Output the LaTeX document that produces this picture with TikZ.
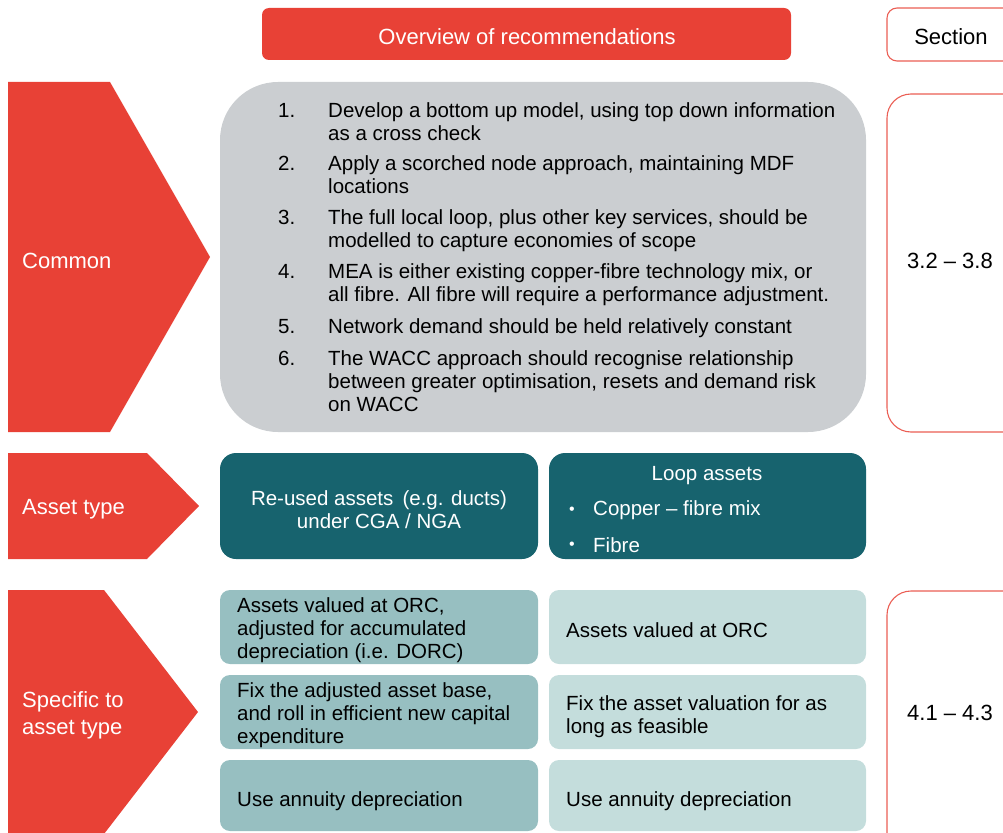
\documentclass[tikz,border=0pt]{standalone}
\usepackage{fontspec}
\setmainfont{Liberation Sans}
\definecolor{brandred}{HTML}{E84136}
\definecolor{panelgrey}{HTML}{CBCED1}
\definecolor{darkteal}{HTML}{17636E}
\definecolor{midteal}{HTML}{97BFC1}
\definecolor{paleteal}{HTML}{C4DDDC}
\newcommand{\recitem}[2]{\begin{tabular}{@{}p{50pt}@{}l@{}}#1&#2\end{tabular}}
\begin{document}
\begin{tikzpicture}[x=1pt,y=-1pt,
  txt/.style={inner sep=0pt, yshift=-2.5pt, font=\fontsize{20.5}{23}\selectfont, align=left},
  big/.style={inner sep=0pt, yshift=-1pt, font=\fontsize{22}{27}\selectfont, align=left},
  wtxt/.style={txt, text=white},
  wbig/.style={big, text=white},
  chev/.style={fill=brandred, draw=none},
  secbox/.style={draw=brandred!85, line width=1.1pt, fill=white, rounded corners=24pt},
  lbox/.style={fill=midteal, rounded corners=10pt},
  rbox/.style={fill=paleteal, rounded corners=10pt},
  tealbox/.style={fill=darkteal, rounded corners=16pt}]
\useasboundingbox (0,0) rectangle (1003,832);
\begin{scope}
\clip (0,0) rectangle (1003,832);

% header bar and section heading
\fill[brandred, rounded corners=7pt] (262,8) rectangle (791,60);
\node[wbig, anchor=center] (head) at (527,36) {Overview of recommendations};
\draw[secbox, rounded corners=10pt] (887,8) rectangle (1030,61);
\node[big, anchor=center] (sechead) at (951,36) {Section};

% chevrons
\fill[chev] (8,82) -- (110,82) -- (210,257) -- (110,432) -- (8,432) -- cycle;
\node[wbig, anchor=west] (common) at (22,260) {Common};
\fill[chev] (8,453) -- (147,453) -- (199,506) -- (147,559) -- (8,559) -- cycle;
\node[wbig, anchor=west] (atype) at (22,508) {Asset type};
\fill[chev] (8,590) -- (104,590) -- (198,712) -- (104,834) -- (8,834) -- cycle;
\node[wbig, anchor=west] (spec) at (22,714) {Specific to\\asset type};

% common recommendations panel
\fill[panelgrey, rounded corners=58pt] (220,82) rectangle (866,432);
\foreach \n/\y/\t in {
  1/122/{Develop a bottom up model, using top down information\\&as a cross check},
  2/175/{Apply a scorched node approach, maintaining MDF\\&locations},
  3/229/{The full local loop, plus other key services, should be\\&modelled to capture economies of scope},
  4/283/{MEA is either existing copper-fibre technology mix, or\\&all fibre. All fibre will require a performance adjustment.},
  5/326/{Network demand should be held relatively constant},
  6/381/{The WACC approach should recognise relationship\\&between greater optimisation, resets and demand risk\\&on WACC}}{
  \node[txt, anchor=west] (rec\n) at (278,\y) {\recitem{\n.}{\t}};
}

\draw[secbox] (887,94) rectangle (1030,432);
\node[big, anchor=center] (sec1) at (950,260) {3.2 – 3.8};

% asset types
\fill[tealbox] (220,453) rectangle (538,559);
\node[wtxt, align=center, anchor=center] (reused) at (379,507.5) {Re-used assets\, (e.g. ducts)\\under CGA / NGA};
\fill[tealbox] (549,453) rectangle (866,559);
\node[wtxt, anchor=center] (loop) at (707,473) {Loop assets};
\node[wtxt, anchor=west, font=\fontsize{16}{18}\selectfont] (b1) at (569,508) {•};
\node[wtxt, anchor=west] (cu) at (593,508) {Copper – fibre mix};
\node[wtxt, anchor=west, font=\fontsize{16}{18}\selectfont] (b2) at (569,543) {•};
\node[wtxt, anchor=west] (fi) at (593,543) {Fibre};

% asset-specific recommendations
\fill[lbox] (220,590) rectangle (538,664);
\node[txt, anchor=west] (l1) at (237,628) {Assets valued at ORC,\\adjusted for accumulated\\depreciation (i.e. DORC)};
\fill[lbox] (220,675) rectangle (538,749);
\node[txt, anchor=west] (l2) at (237,713) {Fix the adjusted asset base,\\and roll in efficient new capital\\expenditure};
\fill[lbox] (220,760) rectangle (538,831);
\node[txt, anchor=west] (l3) at (237,799) {Use annuity depreciation};

\fill[rbox] (549,590) rectangle (866,664);
\node[txt, anchor=west] (r1) at (566,628) {Assets valued at ORC};
\fill[rbox] (549,675) rectangle (866,749);
\node[txt, anchor=west] (r2) at (566,714) {Fix the asset valuation for as\\long as feasible};
\fill[rbox] (549,760) rectangle (866,831);
\node[txt, anchor=west] (r3) at (566,799) {Use annuity depreciation};

\draw[secbox] (887,591) rectangle (1030,860);
\node[big, anchor=center] (sec2) at (950,712) {4.1 – 4.3};
\end{scope}
\end{tikzpicture}
\end{document}
